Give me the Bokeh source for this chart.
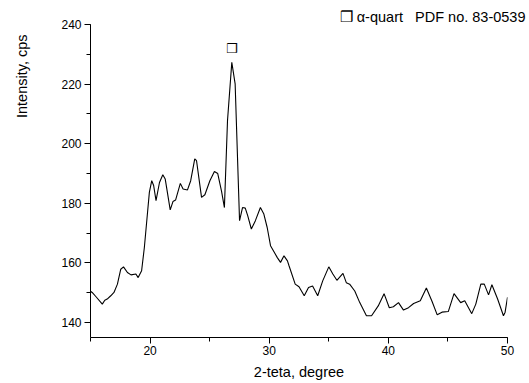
from bokeh.plotting import figure
from bokeh.models import Range1d, SingleIntervalTicker, Title
from bokeh.core.properties import value
from bokeh.embed import file_html
from bokeh.resources import INLINE

two_theta = [15.0, 15.14, 15.5, 15.99, 16.2, 16.4, 16.7, 16.97, 17.26, 17.54, 17.77, 18.1, 18.4, 18.81,
             19.0, 19.29, 19.52, 19.8, 19.94, 20.14, 20.3, 20.5, 20.79, 21.07, 21.27, 21.69, 21.92, 22.14,
             22.54, 22.77, 23.14, 23.41, 23.75, 23.9, 24.32, 24.6, 25.02, 25.4, 25.68, 26.0, 26.24, 26.5,
             26.86, 27.14, 27.51, 27.76, 27.99, 28.2, 28.5, 28.84, 29.26, 29.55, 29.83, 30.11, 30.68,
             30.95, 31.24, 31.53, 31.67, 32.18, 32.5, 32.94, 33.3, 33.64, 34.07, 34.49, 35.0, 35.34,
             35.68, 36.19, 36.47, 36.75, 37.18, 37.6, 38.16, 38.59, 39.15, 39.64, 40.08, 40.42, 40.85,
             41.27, 41.69, 42.12, 42.68, 43.19, 43.67, 44.1, 44.5, 45.03, 45.51, 46.07, 46.41, 47.0,
             47.34, 47.76, 48.05, 48.41, 48.69, 49.17, 49.66, 49.8, 50.0]
intensity = [150.5, 150.1, 148.5, 146.2, 147.5, 147.9, 149.0, 150.1, 152.9, 157.9, 158.7, 156.8, 156.0,
             156.3, 155.1, 157.4, 165.2, 177.5, 183.7, 187.6, 186.0, 180.9, 187.0, 189.6, 188.2, 177.8,
             180.6, 181.1, 186.7, 184.8, 184.5, 187.6, 194.9, 194.3, 182.0, 182.9, 187.6, 190.7, 190.0,
             184.0, 178.6, 207.8, 227.3, 220.1, 174.2, 178.6, 178.4, 175.8, 171.4, 174.2, 178.6, 176.4,
             171.9, 165.8, 161.8, 160.2, 162.4, 160.7, 159.0, 152.9, 152.0, 149.0, 151.8, 152.3, 149.0,
             154.0, 158.7, 156.3, 154.2, 156.5, 153.4, 152.9, 150.6, 146.7, 142.3, 142.3, 145.6, 149.7,
             145.0, 145.3, 146.7, 144.2, 145.0, 146.4, 147.3, 151.6, 147.1, 142.6, 143.5, 143.7, 149.7,
             146.7, 147.3, 143.0, 146.2, 152.9, 152.9, 149.3, 152.7, 147.9, 142.3, 143.5, 148.5]

peak_x = [26.86]
peak_y = [231.8]
peak_symbol = ["\u2752"]

x_label = "2-teta, degree"
y_label = "Intensity, cps"
top_label = "\u2752 \u03b1-quart\u00a0\u00a0\u00a0PDF no. 83-0539"

FONT = "Liberation Sans"

p = figure(width=529, height=383, output_backend="svg", toolbar_location=None,
           x_range=Range1d(15, 50), y_range=Range1d(135, 240),
           min_border_left=90, min_border_right=22, min_border_top=24, min_border_bottom=46)
p.outline_line_color = None
p.grid.visible = False
p.background_fill_color = "white"
p.border_fill_color = "white"

p.xaxis.ticker = SingleIntervalTicker(interval=10, num_minor_ticks=2)
p.yaxis.ticker = SingleIntervalTicker(interval=20, num_minor_ticks=2)
for ax in (p.xaxis, p.yaxis):
    ax.axis_line_color = "black"
    ax.axis_line_width = 1
    ax.major_tick_line_color = "black"
    ax.minor_tick_line_color = "black"
    ax.major_tick_in = 0
    ax.minor_tick_in = 0
    ax.major_tick_out = 6
    ax.minor_tick_out = 4
    ax.major_label_text_font = FONT
    ax.major_label_text_font_size = "12px"
    ax.major_label_text_color = "black"
    ax.axis_label_text_font = FONT
    ax.axis_label_text_font_size = "14.5px"
    ax.axis_label_text_font_style = "normal"
    ax.axis_label_text_color = "black"
p.xaxis.major_label_standoff = 2
p.yaxis.major_label_standoff = 3

p.xaxis.axis_label = x_label
p.xaxis.axis_label_standoff = 6
# leading no-break spaces push the centred label toward the top of the axis, as in the reference
p.yaxis.axis_label = "\u00a0" * 52 + y_label
p.yaxis.axis_label_standoff = 28

p.line(two_theta, intensity, line_color="black", line_width=1.1)

p.text(peak_x, peak_y, text=peak_symbol, text_font=value("DejaVu Sans"), text_font_size="13px",
       text_align="center", text_baseline="middle", text_color="black")

t = Title(text=top_label, align="right", offset=-18, standoff=0, text_font=FONT,
          text_font_size="14.5px", text_font_style="normal", text_color="black", vertical_align="bottom")
p.add_layout(t, "above")

open("out.html", "w").write(file_html(p, INLINE))
